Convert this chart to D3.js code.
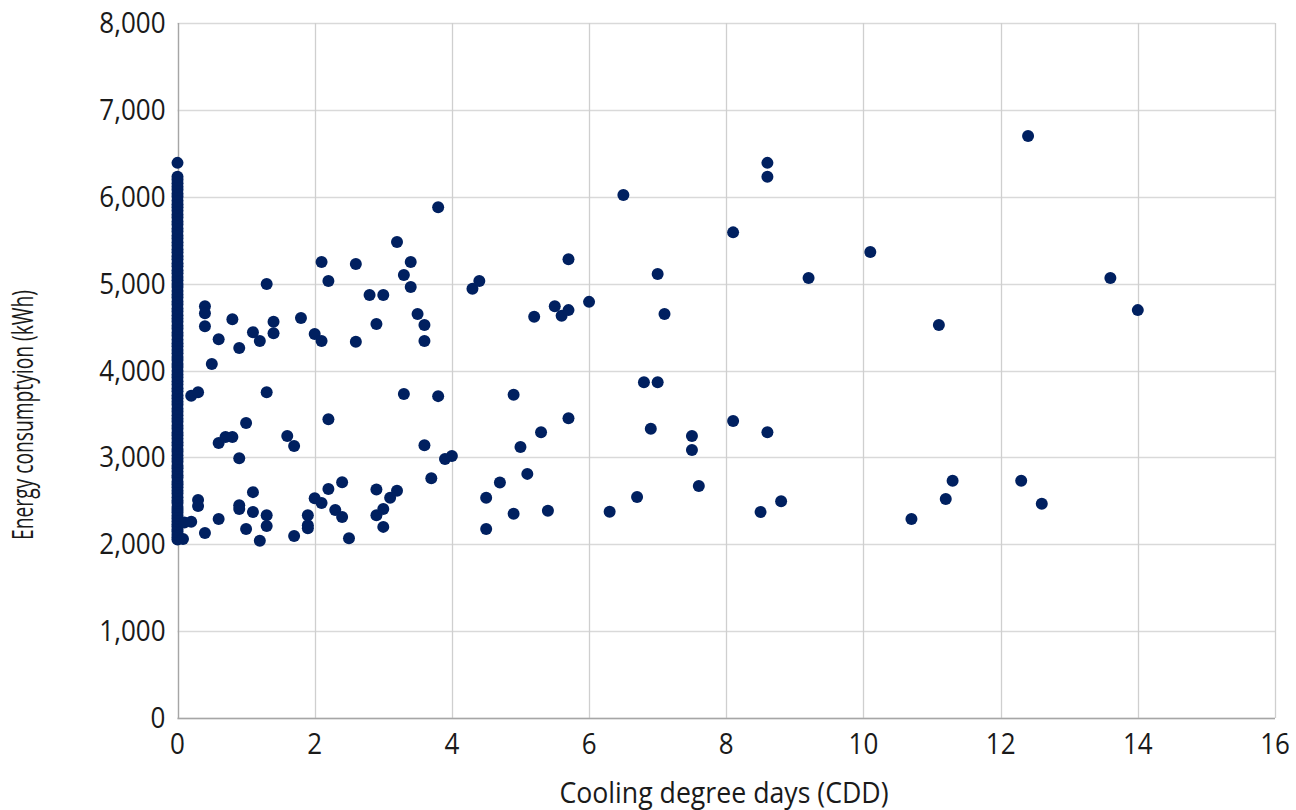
<!DOCTYPE html>
<html>
<head>
<meta charset="utf-8">
<script src="https://cdn.jsdelivr.net/npm/d3@7"></script>
<style>
  body { margin: 0; background: #fff; }
  svg text { font-family: "Open Sans", "Noto Sans", sans-serif; fill: #1a1a1a; }
</style>
</head>
<body>
<svg id="chart" width="1296" height="810"></svg>
<script>
// days with zero cooling demand (stacked on the y axis)
const zeroCddKwh = [2055, 2080, 2110, 2145, 2170, 2205, 2230, 2265, 2300, 2330, 2365, 2395, 2430, 2475, 2505, 2540, 2585, 2615, 2655, 2690, 2720, 2765, 2795, 2835, 2875, 2905, 2950, 2985, 3025, 3065, 3095, 3140, 3175, 3215, 3255, 3285, 3330, 3365, 3410, 3445, 3485, 3525, 3560, 3605, 3640, 3680, 3715, 3760, 3795, 3840, 3875, 3920, 3955, 3995, 4040, 4075, 4120, 4155, 4200, 4235, 4280, 4315, 4355, 4400, 4435, 4480, 4515, 4560, 4600, 4635, 4680, 4715, 4760, 4795, 4840, 4875, 4915, 4960, 4995, 5040, 5075, 5120, 5155, 5200, 5235, 5280, 5315, 5360, 5395, 5440, 5475, 5520, 5555, 5600, 5635, 5680, 5715, 5760, 5795, 5840, 5880, 5915, 5955, 6000, 6035, 6080, 6115, 6155, 6195, 6230, 6390];

// days with some cooling demand
const cdd = [0.08, 0.1, 0.2, 0.3, 0.3, 0.2, 0.3, 0.4, 0.4, 0.4, 0.6, 0.5, 0.4, 0.6, 0.6, 0.7, 0.8, 0.8, 0.9, 0.9, 0.9, 0.9,
  1.0, 1.0, 1.1, 1.1, 1.1, 1.2, 1.2, 1.3, 1.3, 1.3, 1.3, 1.4, 1.4, 1.6, 1.7, 1.7, 1.8, 1.9, 1.9, 1.9,
  2.0, 2.1, 2.2, 2.1, 2.2, 2.0, 2.1, 2.2, 2.3, 2.4, 2.4, 2.5, 2.6, 3.2, 3.4, 3.3, 3.4, 2.8, 3.0, 2.9, 3.5, 3.6, 3.6, 2.6,
  3.8, 4.3, 4.4, 5.7, 6.0, 5.2, 5.5, 5.6, 5.7, 3.3, 3.8, 4.9, 3.6, 5.0, 5.3, 5.7, 3.9, 4.0, 3.7,
  2.9, 2.9, 3.0, 3.0, 3.1, 3.2, 4.5, 4.5, 4.7, 4.9, 5.1, 5.4, 6.3,
  8.6, 8.6, 6.5, 8.1, 10.1, 7.0, 9.2, 7.1, 6.8, 7.0, 6.9, 8.1, 8.6, 7.5, 7.5, 7.6, 6.7, 8.5, 8.8,
  12.4, 13.6, 14.0, 11.1, 11.3, 11.2, 10.7, 12.3, 12.6];
const kwh = [2060, 2250, 2260, 2510, 2440, 3710, 3750, 4740, 4660, 4510, 4360, 4075, 2130, 2290, 3165, 3235, 3235, 4590, 4260, 2990, 2450, 2405,
  3395, 2175, 4440, 2600, 2370, 4340, 2040, 4995, 3750, 2335, 2210, 4560, 4430, 3245, 3130, 2095, 4605, 2335, 2220, 2185,
  4420, 5250, 5030, 4340, 3440, 2530, 2475, 2635, 2395, 2715, 2315, 2070, 5225, 5480, 5250, 5100, 4960, 4870, 4870, 4535, 4650, 4525, 4340, 4330,
  5880, 4940, 5030, 5280, 4790, 4620, 4740, 4630, 4695, 3730, 3705, 3720, 3140, 3120, 3290, 3450, 2980, 3015, 2760,
  2630, 2335, 2405, 2200, 2535, 2615, 2535, 2175, 2710, 2350, 2810, 2385, 2375,
  6390, 6230, 6020, 5590, 5365, 5110, 5065, 4650, 3865, 3865, 3330, 3420, 3290, 3245, 3085, 2670, 2545, 2370, 2495,
  6700, 5065, 4695, 4525, 2730, 2520, 2290, 2730, 2465];

const xTicks = [0, 2, 4, 6, 8, 10, 12, 14, 16];
const yTicks = [0, 1000, 2000, 3000, 4000, 5000, 6000, 7000, 8000];

const points = zeroCddKwh.map(v => ({x: 0, y: v}))
  .concat(cdd.map((c, i) => ({x: c, y: kwh[i]})));

const svg = d3.select("#chart");
const plotLeft = 177.5, plotRight = 1275, plotTop = 23, plotBottom = 718;

const x = d3.scaleLinear().domain([0, 16]).range([plotLeft, plotRight]);
const y = d3.scaleLinear().domain([0, 8000]).range([plotBottom, plotTop]);

// gridlines
svg.append("g")
  .selectAll("line")
  .data(yTicks)
  .join("line")
  .attr("x1", plotLeft).attr("x2", plotRight)
  .attr("y1", d => Math.round(y(d)) + 0.5).attr("y2", d => Math.round(y(d)) + 0.5)
  .attr("stroke", "#d9d9d9").attr("stroke-width", 1.3);

svg.append("g")
  .selectAll("line")
  .data(xTicks)
  .join("line")
  .attr("x1", d => Math.round(x(d)) + 0.5).attr("x2", d => Math.round(x(d)) + 0.5)
  .attr("y1", plotTop).attr("y2", plotBottom)
  .attr("stroke", "#cfcfcf").attr("stroke-width", 1.3);

// axis lines
svg.append("line")
  .attr("x1", Math.round(x(0)) + 0.5).attr("x2", Math.round(x(0)) + 0.5)
  .attr("y1", plotTop).attr("y2", plotBottom)
  .attr("stroke", "#a6a6a6").attr("stroke-width", 1.3);
svg.append("line")
  .attr("x1", plotLeft).attr("x2", plotRight)
  .attr("y1", Math.round(y(0)) + 0.5).attr("y2", Math.round(y(0)) + 0.5)
  .attr("stroke", "#a6a6a6").attr("stroke-width", 1.3);

// tick labels (glyphs in the original are a little taller than wide)
const fmt = d3.format(",");
svg.append("g")
  .selectAll("text")
  .data(yTicks)
  .join("text")
  .attr("transform", d => `translate(${plotLeft - 12},${y(d) + 10}) scale(1,1.1)`)
  .attr("text-anchor", "end")
  .attr("font-size", 26)
  .text(d => fmt(d));

svg.append("g")
  .selectAll("text")
  .data(xTicks)
  .join("text")
  .attr("transform", d => `translate(${x(d)},${plotBottom + 36}) scale(1,1.1)`)
  .attr("text-anchor", "middle")
  .attr("font-size", 26)
  .text(d => d);

// axis titles
svg.append("text")
  .attr("transform", "translate(724,803) scale(1,1.1)")
  .attr("text-anchor", "middle")
  .attr("font-size", 26.7)
  .text("Cooling degree days (CDD)");

svg.append("text")
  .attr("transform", "translate(33,415) rotate(-90)")
  .attr("text-anchor", "middle")
  .attr("font-size", 29)
  .attr("textLength", 250)
  .attr("lengthAdjust", "spacingAndGlyphs")
  .text("Energy consumptyion (kWh)");

// points
svg.append("g")
  .selectAll("circle")
  .data(points)
  .join("circle")
  .attr("cx", d => x(d.x))
  .attr("cy", d => y(d.y))
  .attr("r", 6)
  .attr("fill", "#002060");
</script>
</body>
</html>
